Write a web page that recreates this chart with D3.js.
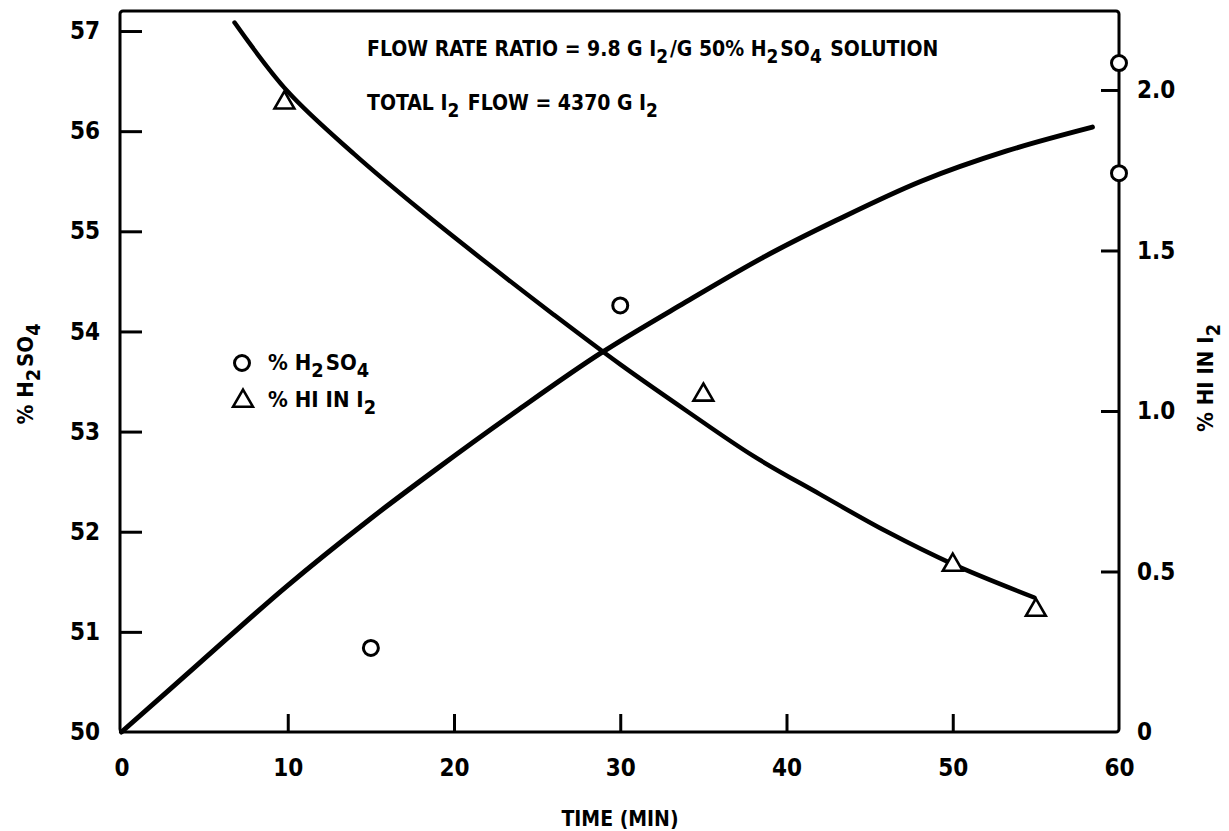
<!DOCTYPE html>
<html>
<head>
<meta charset="utf-8">
<script src="https://cdn.jsdelivr.net/npm/d3@7"></script>
<style>
  body { margin: 0; background: #fff; }
  svg text { font-family: "Liberation Sans Narrow", "DejaVu Sans Condensed", "Liberation Sans", sans-serif; font-weight: bold; fill: #000; }
</style>
</head>
<body>
<svg id="chart" width="1229" height="831"></svg>
<script>
// tick labels
var timeTicks = [0, 10, 20, 30, 40, 50, 60];
var leftTicks = [50, 51, 52, 53, 54, 55, 56, 57];
var rightTicks = [0, 0.5, 1.0, 1.5, 2.0];

// smooth curve (% H2SO4, left axis)
var h2so4CurveTime = [0, 4.7, 9.9, 14.9, 18.9, 23.9, 28.8, 33.9, 38.6, 43.0, 48.1, 53.2, 58.4];
var h2so4CurveVal = [50.0, 50.69, 51.45, 52.12, 52.62, 53.22, 53.78, 54.29, 54.74, 55.11, 55.50, 55.80, 56.04];

// smooth curve (% HI in I2, right axis)
var hiCurveTime = [6.8, 10, 14, 18, 22, 26, 30, 34, 38, 42, 46, 50, 54.9];
var hiCurveVal = [2.21, 1.995, 1.80, 1.625, 1.46, 1.30, 1.145, 1.0, 0.86, 0.741, 0.625, 0.523, 0.419];

// measured points
var h2so4PtTime = [15, 30, 60, 60];
var h2so4PtVal = [50.84, 54.26, 56.68, 55.58];
var hiPtTime = [9.8, 35, 50, 55];
var hiPtVal = [1.96, 1.05, 0.52, 0.38];

var svg = d3.select("#chart");
var pLeft = 120, pRight = 1119, pTop = 11, pBottom = 732;

var x = d3.scaleLinear().domain([0, 60]).range([121.5, 1119]);
var yL = d3.scaleLinear().domain([50, 57.2]).range([pBottom, pTop]);
var yR = d3.scaleLinear().domain([0, 2.246]).range([pBottom, pTop]);

// frame
svg.append("rect").attr("x", pLeft).attr("y", pTop).attr("width", pRight - pLeft).attr("height", pBottom - pTop)
    .attr("fill", "none").attr("stroke", "#000").attr("stroke-width", 3).attr("rx", 3);

// axes, ticks pointing inward
var gL = svg.append("g").attr("transform", "translate(" + pLeft + ",0)")
    .call(d3.axisLeft(yL).tickValues(leftTicks).tickSize(-22).tickPadding(20).tickFormat(d3.format("d")));
var gB = svg.append("g").attr("transform", "translate(0," + pBottom + ")")
    .call(d3.axisBottom(x).tickValues(timeTicks).tickSize(-18).tickPadding(27).tickFormat(d3.format("d")));
var gR = svg.append("g").attr("transform", "translate(" + pRight + ",0)")
    .call(d3.axisRight(yR).tickValues(rightTicks).tickSize(-18).tickPadding(18)
        .tickFormat(function (d) { return d === 0 ? "0" : d.toFixed(1); }));

[gL, gB, gR].forEach(function (g) {
    g.select(".domain").remove();
    g.selectAll(".tick line").attr("stroke", "#000").attr("stroke-width", 3);
    g.selectAll(".tick text").attr("font-size", 24).attr("fill", "#000");
});
gL.select(".tick line").remove();
gB.selectAll(".tick line").filter(function (d) { return d === 0 || d === 60; }).remove();
gR.select(".tick line").remove();

// curves
var lineL = d3.line().x(function (d) { return x(d[0]); }).y(function (d) { return yL(d[1]); }).curve(d3.curveCatmullRom);
var lineR = d3.line().x(function (d) { return x(d[0]); }).y(function (d) { return yR(d[1]); }).curve(d3.curveCatmullRom);

svg.append("path").datum(d3.zip(h2so4CurveTime, h2so4CurveVal)).attr("d", lineL)
    .attr("fill", "none").attr("stroke", "#000").attr("stroke-width", 5).attr("stroke-linecap", "round");
svg.append("path").datum(d3.zip(hiCurveTime, hiCurveVal)).attr("d", lineR)
    .attr("fill", "none").attr("stroke", "#000").attr("stroke-width", 4.5).attr("stroke-linecap", "round");

// points
var tri = d3.symbol().type(d3.symbolTriangle).size(170);
svg.selectAll(".circ").data(d3.zip(h2so4PtTime, h2so4PtVal)).enter().append("circle")
    .attr("cx", function (d) { return x(d[0]); }).attr("cy", function (d) { return yL(d[1]); })
    .attr("r", 7.5).attr("fill", "#fff").attr("stroke", "#000").attr("stroke-width", 3);
svg.selectAll(".tri").data(d3.zip(hiPtTime, hiPtVal)).enter().append("path")
    .attr("d", tri)
    .attr("transform", function (d) { return "translate(" + x(d[0]) + "," + yR(d[1]) + ")"; })
    .attr("fill", "#fff").attr("stroke", "#000").attr("stroke-width", 2.6);

// helper for text with subscripts: parts = [[text, isSub], ...]
function richText(g, parts, size) {
    var t = g.append("text").attr("font-size", size);
    parts.forEach(function (p) {
        if (p[1]) {
            t.append("tspan").attr("dy", size * 0.33).attr("font-size", size * 0.9).text(p[0]);
            t.append("tspan").attr("dy", -size * 0.33).text("\u200a");
        } else {
            t.append("tspan").text(p[0]);
        }
    });
    return t;
}

// annotation
richText(svg, [["FLOW RATE RATIO = 9.8 G I", 0], ["2", 1], ["/G 50% H", 0], ["2", 1], ["SO", 0], ["4", 1], [" SOLUTION", 0]], 21)
    .attr("x", 367).attr("y", 56);
richText(svg, [["TOTAL I", 0], ["2", 1], [" FLOW = 4370 G I", 0], ["2", 1]], 21)
    .attr("x", 367).attr("y", 110);

// legend
svg.append("circle").attr("cx", 242).attr("cy", 363).attr("r", 7.5)
    .attr("fill", "#fff").attr("stroke", "#000").attr("stroke-width", 3);
svg.append("path").attr("d", tri).attr("transform", "translate(243,401)")
    .attr("fill", "#fff").attr("stroke", "#000").attr("stroke-width", 2.6);
richText(svg, [["% H", 0], ["2", 1], ["SO", 0], ["4", 1]], 22).attr("x", 268).attr("y", 370);
richText(svg, [["% HI IN I", 0], ["2", 1]], 22).attr("x", 268).attr("y", 407);

// axis titles
richText(svg.append("g").attr("transform", "translate(33,373) rotate(-90)"), [["% H", 0], ["2", 1], ["SO", 0], ["4", 1]], 22)
    .attr("text-anchor", "middle");
richText(svg.append("g").attr("transform", "translate(1213,377) rotate(-90)"), [["% HI IN I", 0], ["2", 1]], 22)
    .attr("text-anchor", "middle");
svg.append("text").attr("x", 620).attr("y", 826).attr("text-anchor", "middle").attr("font-size", 21).text("TIME (MIN)");
</script>
</body>
</html>
